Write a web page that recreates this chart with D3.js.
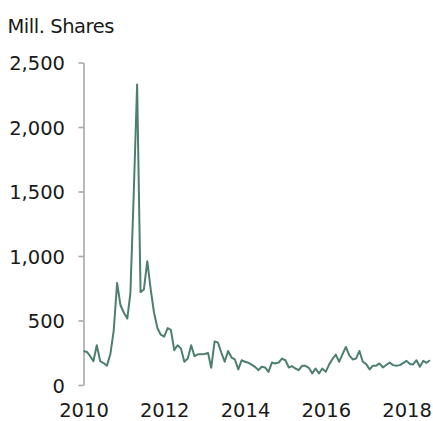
<!DOCTYPE html>
<html>
<head>
<meta charset="utf-8">
<script src="https://cdn.jsdelivr.net/npm/d3@7"></script>
<style>
  html, body { margin: 0; padding: 0; background: #fff; }
  svg { display: block; }
  text { font-family: "DejaVu Sans", sans-serif; fill: #1a1a1a; }
</style>
</head>
<body>
<svg id="chart" width="433" height="421"></svg>
<script>
// Monthly values, Jan 2010 onward (million shares)
const startYear = 2010;
const values = [
  264, 256, 225, 185, 308, 185, 170, 150, 240, 420, 790, 620,
  560, 515, 710, 1500, 2330, 720, 740, 960, 740, 560, 440, 390,
  375, 441, 428, 270, 308, 282, 180, 205, 308, 223, 238, 238,
  240, 248, 133, 338, 328, 250, 180, 264, 213, 198, 121, 192,
  180, 172, 158, 141, 115, 141, 136, 102, 174, 167, 174, 205,
  192, 136, 146, 128, 115, 149, 149, 133, 90, 128, 90, 128,
  102, 160, 200, 236, 180, 240, 295, 230, 198, 205, 264, 180,
  162, 121, 149, 150, 167, 136, 155, 174, 154, 149, 154, 170,
  187, 162, 159, 192, 141, 187, 172, 192
];
const yTicks = [0, 500, 1000, 1500, 2000, 2500];
const xTickYears = [2010, 2012, 2014, 2016, 2018];
const unitLabel = "Mill. Shares";

const data = values.map((v, i) => ({ date: new Date(startYear, i, 1), value: v }));

const svg = d3.select("#chart");
const x = d3.scaleTime()
  .domain([data[0].date, data[data.length - 1].date])
  .range([83.5, 430]);
const y = d3.scaleLinear().domain([0, 2500]).range([385, 62.5]);

// Title
svg.append("text")
  .attr("x", 7.5).attr("y", 32.5)
  .style("font-size", "19.5px")
  .style("letter-spacing", "-0.45px")
  .text(unitLabel);

// Y axis
const yAxis = svg.append("g")
  .attr("transform", "translate(83.5,0)")
  .call(d3.axisLeft(y).tickValues(yTicks).tickSize(5).tickSizeOuter(0)
    .tickFormat(d3.format(",")));
yAxis.select(".domain").attr("stroke", "#a8a8a8").attr("stroke-width", 1.6);
yAxis.selectAll(".tick line").attr("stroke", "#a8a8a8").attr("stroke-width", 1.6);
yAxis.selectAll(".tick text")
  .attr("x", -18.5).attr("dy", "0.36em")
  .style("font-size", "19.5px")
  .style("font-family", "DejaVu Sans, sans-serif")
  .attr("fill", "#1a1a1a");

// X axis (labels only)
const xAxis = svg.append("g")
  .attr("transform", "translate(0,385)")
  .call(d3.axisBottom(x)
    .tickValues(xTickYears.map(yr => new Date(yr, 0, 1)))
    .tickFormat(d3.timeFormat("%Y")).tickSize(0));
xAxis.select(".domain").remove();
xAxis.selectAll(".tick text")
  .attr("y", 31.5).attr("dy", 0)
  .style("font-size", "19.5px")
  .style("font-family", "DejaVu Sans, sans-serif")
  .attr("fill", "#1a1a1a");

// Line
const line = d3.line().x(d => x(d.date)).y(d => y(d.value));
svg.append("path")
  .datum(data)
  .attr("fill", "none")
  .attr("stroke", "#4d7f6e")
  .attr("stroke-width", 2)
  .attr("stroke-linejoin", "round")
  .attr("d", line);
</script>
</body>
</html>
